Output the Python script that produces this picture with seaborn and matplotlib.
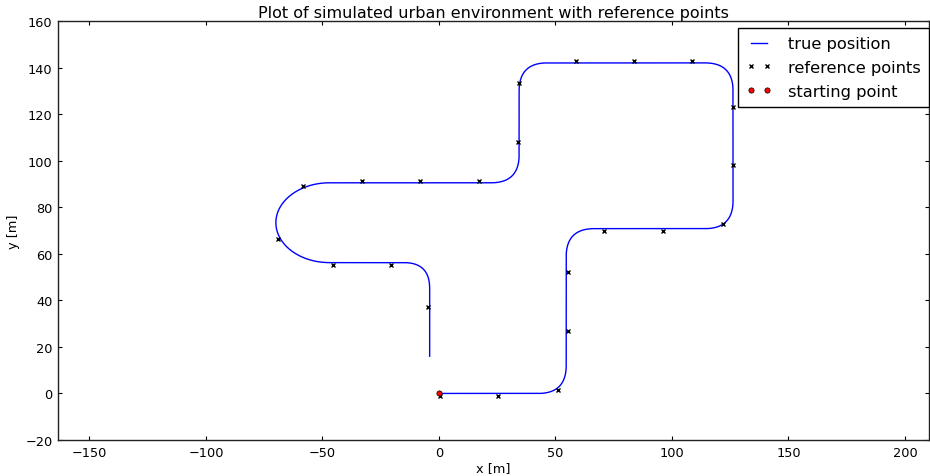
import numpy as np
import matplotlib
matplotlib.use("Agg")
import matplotlib.pyplot as plt
from matplotlib.path import Path
import seaborn as sns

# Route of the vehicle: straight legs joined by rounded corners.
# Codes: M = move to, L = line to, Q = quadratic corner (control, end),
# C = cubic arc (control, control, end).
route_x = [0.0, 42.6, 54.6, 54.6, 54.6, 54.6, 66.6, 114.2, 126.2, 126.2,
           126.2, 126.2, 114.2, 46.4, 34.4, 34.4, 34.4, 34.4, 22.4, -47.0,
           -59.7, -70.0, -70.0, -70.0, -59.7, -47.0, -15.0, -4.0, -4.0, -4.0]
route_y = [0.0, 0.0, 0.0, 12.0, 58.8, 70.8, 70.8, 70.8, 70.8, 82.8,
           130.0, 142.0, 142.0, 142.0, 142.0, 130.0, 102.5, 90.5, 90.5, 90.5,
           90.5, 82.8, 73.35, 63.9, 56.2, 56.2, 56.2, 56.2, 45.2, 16.0]
route_codes = ["M", "L", "Q", "Q", "L", "Q", "Q", "L", "Q", "Q",
               "L", "Q", "Q", "L", "Q", "Q", "L", "Q", "Q", "L",
               "C", "C", "C", "C", "C", "C", "L", "Q", "Q", "L"]

# Noisy reference fixes recorded along the route
ref_x = [0.4, 25.5, 50.9, 55.2, 55.2, 71.0, 96.3, 121.8, 126.3, 126.3, 108.7,
         83.7, 58.7, 34.5, 33.9, 17.0, -8.0, -33.0, -58.5, -69.0, -45.5,
         -20.5, -4.9]
ref_y = [-1.3, -1.3, 1.6, 26.9, 52.3, 69.8, 69.8, 72.6, 98.1, 123.2, 142.9,
         142.9, 142.9, 133.2, 107.9, 91.1, 91.1, 91.1, 89.0, 66.3, 55.2,
         55.2, 37.2]

start_x = [0.0]
start_y = [0.0]

code_map = {"M": Path.MOVETO, "L": Path.LINETO, "Q": Path.CURVE3, "C": Path.CURVE4}
route = Path(np.column_stack([route_x, route_y]),
             [code_map[c] for c in route_codes])

# Evaluate every Bezier piece of the route for a smooth polyline
line_x, line_y = [], []
for seg, code in route.iter_bezier():
    if seg.degree == 0:
        continue
    n = 2 if seg.degree == 1 else 40
    pts = seg(np.linspace(0.0, 1.0, n))
    line_x.extend(pts[:, 0])
    line_y.extend(pts[:, 1])

plt.rcParams.update({
    "font.family": "DejaVu Sans",
    "xtick.direction": "in",
    "ytick.direction": "in",
    "xtick.top": True,
    "ytick.right": True,
    "xtick.major.size": 3,
    "ytick.major.size": 3,
    "axes.linewidth": 1.0,
    "axes.edgecolor": "#222222",
})

fig = plt.figure(figsize=(9.30, 4.77), dpi=100, facecolor="white")
ax = fig.add_axes([58 / 930, 1 - 441 / 477, 871 / 930, 419 / 477])

sns.lineplot(x=line_x, y=line_y, sort=False, estimator=None, color="#0000ff",
             lw=1.0, label="true position", ax=ax)
sns.lineplot(x=ref_x, y=ref_y, sort=False, estimator=None, color="black",
             linestyle="", marker="x", markersize=3.2, mec="black", mew=1.0,
             label="reference points", ax=ax)
sns.lineplot(x=start_x, y=start_y, sort=False, estimator=None, color="red",
             linestyle="", marker="o", markersize=3.8, mec="black", mew=0.5,
             label="starting point", ax=ax)

ax.set_xlim(-163.5, 210.3)
ax.set_ylim(-20, 160)
ax.set_xticks(np.arange(-150, 201, 50))
ax.set_yticks(np.arange(-20, 161, 20))
ax.tick_params(labelsize=9.3, pad=4)
ax.grid(False)

ax.set_title("Plot of simulated urban environment with reference points",
             fontsize=11.5, pad=3)
ax.set_xlabel("x [m]", fontsize=9.3, labelpad=2)
ax.set_ylabel("y [m]", fontsize=9.3, labelpad=4)

leg = ax.legend(loc="upper right", bbox_to_anchor=(1.0, 0.983), borderaxespad=0,
                fontsize=11.7, numpoints=2, frameon=True, fancybox=False,
                framealpha=1, edgecolor="black", handlelength=1.6,
                labelspacing=0.55, borderpad=0.5, handletextpad=1.0)
leg.get_frame().set_linewidth(1.0)

fig.savefig("out.png", dpi=100, facecolor="white")
